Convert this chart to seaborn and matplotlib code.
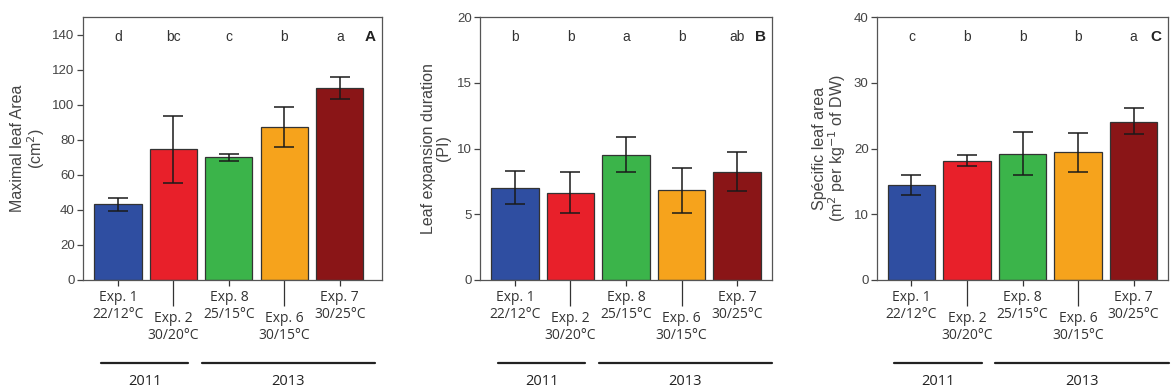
import numpy as np
import pandas as pd
import matplotlib
matplotlib.use("Agg")
import matplotlib.pyplot as plt
import matplotlib.transforms as mtransforms
import seaborn as sns

# categories / labels
experiments = ["Exp. 1\n22/12°C", "Exp. 2\n30/20°C", "Exp. 8\n25/15°C",
               "Exp. 6\n30/15°C", "Exp. 7\n30/25°C"]
bar_colors = ["#2F4EA1", "#E8202A", "#3BB44A", "#F6A31C", "#8A1517"]
years = ["2011", "2013"]

# panel A: maximal leaf area (cm2)
leaf_area = [43.5, 74.5, 70.0, 87.0, 109.5]
leaf_area_lo = [39.5, 55.5, 68.0, 76.0, 103.0]
leaf_area_hi = [47.0, 93.5, 72.0, 98.5, 116.0]
leaf_area_letters = ["d", "bc", "c", "b", "a"]

# panel B: leaf expansion duration (PI)
duration = [7.0, 6.6, 9.5, 6.85, 8.25]
duration_lo = [5.8, 5.1, 8.2, 5.1, 6.8]
duration_hi = [8.3, 8.2, 10.85, 8.5, 9.75]
duration_letters = ["b", "b", "a", "b", "ab"]

# panel C: specific leaf area
sla = [14.5, 18.1, 19.2, 19.4, 24.0]
sla_lo = [13.0, 17.3, 16.0, 16.5, 22.2]
sla_hi = [16.0, 19.0, 22.5, 22.3, 26.1]
sla_letters = ["c", "b", "b", "b", "a"]

panels = [
    dict(vals=leaf_area, lo=leaf_area_lo, hi=leaf_area_hi, letters=leaf_area_letters,
         tag="A", ylim=(0, 150), yticks=[0, 20, 40, 60, 80, 100, 120, 140],
         ylabel="Maximal leaf Area\n(cm$^2$)", rect=[83, 17, 382, 280], xlim=(-0.63, 4.76)),
    dict(vals=duration, lo=duration_lo, hi=duration_hi, letters=duration_letters,
         tag="B", ylim=(0, 20), yticks=[0, 5, 10, 15, 20],
         ylabel="Leaf expansion duration\n(PI)", rect=[480, 17, 772, 280], xlim=(-0.63, 4.63)),
    dict(vals=sla, lo=sla_lo, hi=sla_hi, letters=sla_letters,
         tag="C", ylim=(0, 40), yticks=[0, 10, 20, 30, 40],
         ylabel="Spécific leaf area\n(m$^2$ per kg$^{-1}$ of DW)", rect=[877, 17, 1168, 280],
         xlim=(-0.62, 4.62)),
]

sns.set_theme(style="ticks")
plt.rcParams["font.family"] = ["Liberation Sans", "DejaVu Sans"]

W, H = 1172, 392
fig = plt.figure(figsize=(W / 100, H / 100), dpi=100)

for p in panels:
    x0, y0, x1, y1 = p["rect"]
    ax = fig.add_axes([x0 / W, 1 - y1 / H, (x1 - x0) / W, (y1 - y0) / H])
    df = pd.DataFrame({"exp": experiments, "val": p["vals"]})
    sns.barplot(data=df, x="exp", y="val", hue="exp", palette=bar_colors, legend=False,
                width=0.85, edgecolor="#333333", linewidth=0.9, saturation=1, ax=ax)
    means = np.array(p["vals"])
    yerr = [means - np.array(p["lo"]), np.array(p["hi"]) - means]
    ax.errorbar(np.arange(len(means)), means, yerr=yerr, fmt="none",
                ecolor="#1a1a1a", elinewidth=1.1, capsize=7, capthick=1.1)

    ax.set_xlim(*p["xlim"])
    ax.set_ylim(*p["ylim"])
    ax.set_yticks(p["yticks"])
    ax.tick_params(axis="y", labelsize=9.5, colors="#444444", length=4, width=0.9, pad=2)
    ax.set_ylabel(p["ylabel"], fontsize=11.5, color="#444444", labelpad=4, linespacing=1.0)
    ax.set_xlabel("")

    # staggered x labels: short ticks for 1st/3rd/5th, long ones for 2nd/4th
    ax.set_xticks([0, 2, 4], labels=[experiments[i] for i in (0, 2, 4)])
    ax.set_xticks([1, 3], labels=[experiments[i] for i in (1, 3)], minor=True)
    ax.tick_params(axis="x", which="major", length=4, width=0.9, pad=3,
                   labelsize=10, colors="#333333")
    ax.tick_params(axis="x", which="minor", length=19, width=0.9, pad=3,
                   labelsize=10, colors="#333333")
    for lab in ax.get_xticklabels(minor=False) + ax.get_xticklabels(minor=True):
        lab.set_fontfamily(["Open Sans", "DejaVu Sans"])
        lab.set_linespacing(1.25)

    for s in ax.spines.values():
        s.set_color("#555555")
        s.set_linewidth(0.9)

    # significance letters and panel tag
    trans = mtransforms.blended_transform_factory(ax.transData, ax.transAxes)
    for i, letter in enumerate(p["letters"]):
        ax.text(i, 0.925, letter, transform=trans, ha="center", va="center",
                fontsize=10, color="#333333")
    ax.text(0.96, 0.925, p["tag"], transform=ax.transAxes, ha="center", va="center",
            fontsize=11, fontweight="bold", color="#222222")

    # year bars below the axis
    ax.plot([-0.31, 1.27], [-0.315, -0.315], transform=trans, color="#222222",
            lw=1.6, clip_on=False)
    ax.plot([1.51, 4.63], [-0.315, -0.315], transform=trans, color="#222222",
            lw=1.6, clip_on=False)
    ax.text(0.48, -0.385, years[0], transform=trans, ha="center", va="center",
            fontsize=10.5, color="#222222", family=["Open Sans", "DejaVu Sans"])
    ax.text(3.07, -0.385, years[1], transform=trans, ha="center", va="center",
            fontsize=10.5, color="#222222", family=["Open Sans", "DejaVu Sans"])

fig.savefig("out.png", dpi=100)
